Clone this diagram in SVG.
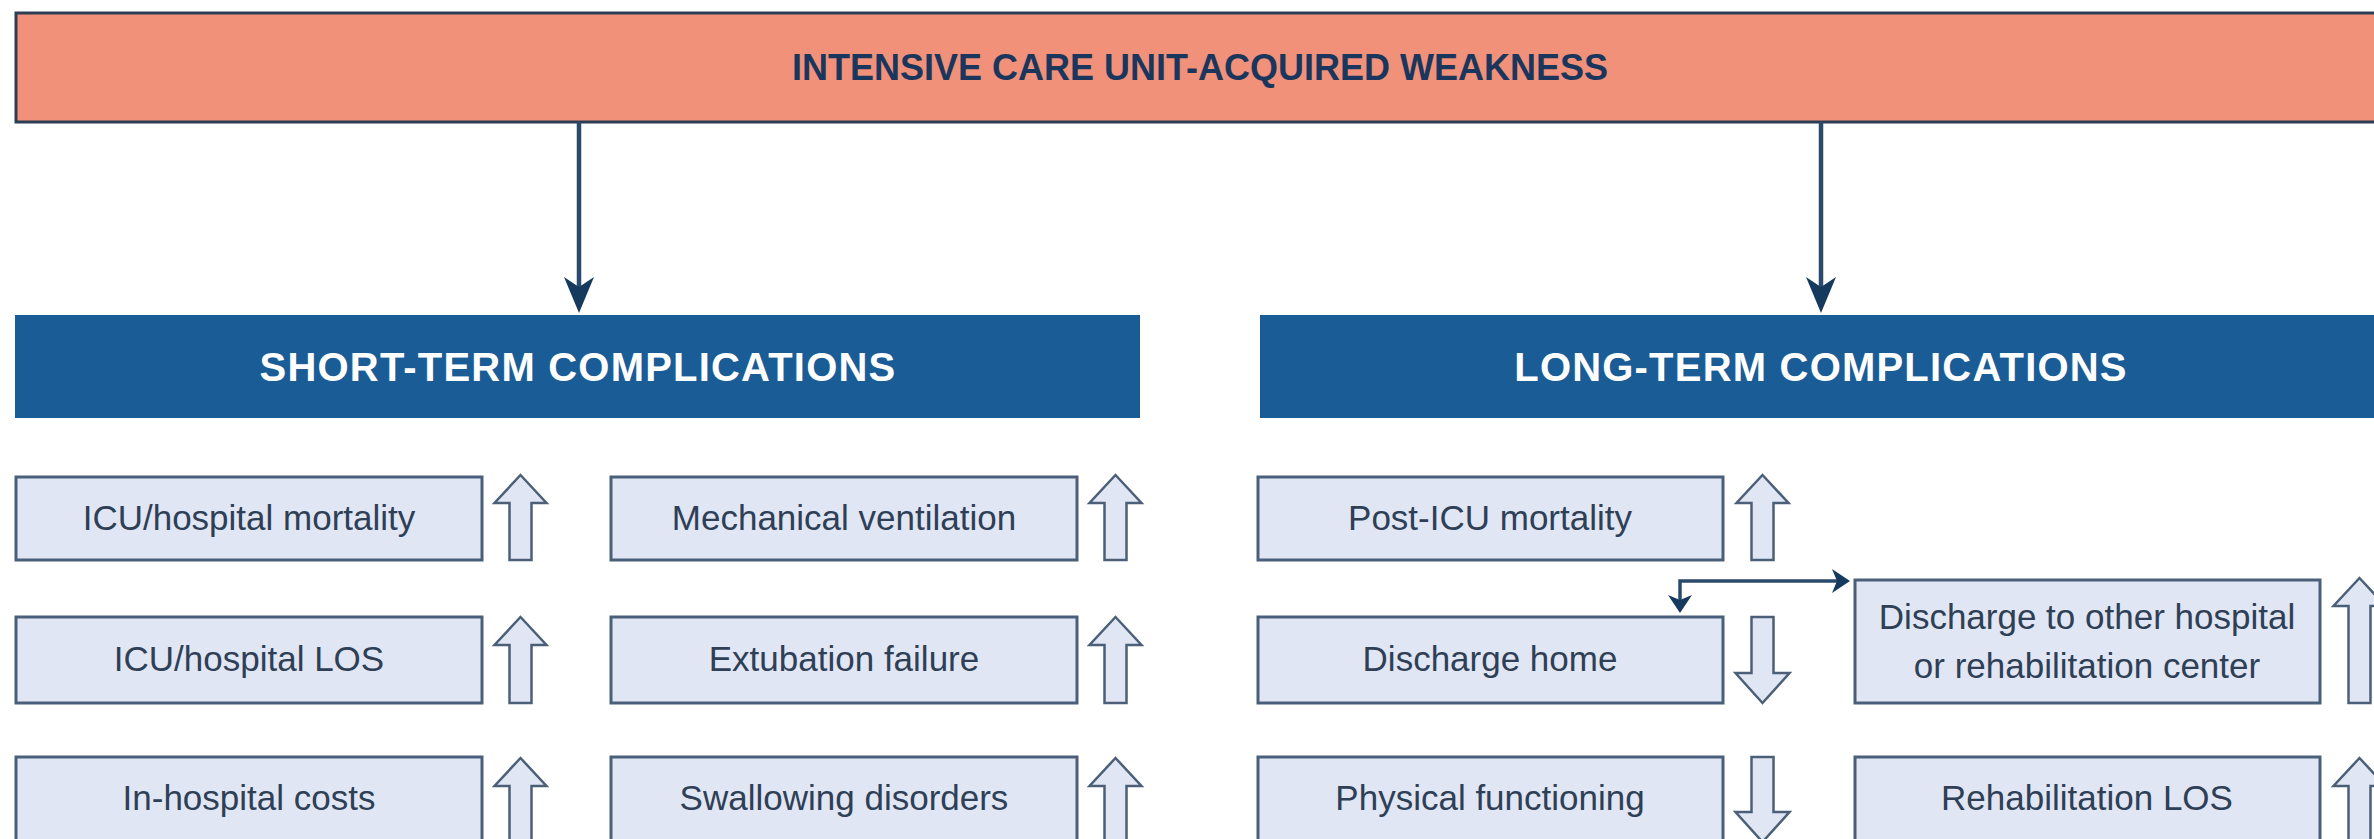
<svg xmlns="http://www.w3.org/2000/svg" width="2374" height="839" viewBox="0 0 2374 839">
<defs>
<style>
.title{font-family:"Liberation Sans",Arial,sans-serif;font-weight:bold;font-size:36px;fill:#1b365d;text-anchor:middle}
.hdr{font-family:"Liberation Sans",Arial,sans-serif;font-weight:bold;font-size:40px;fill:#ffffff;text-anchor:middle;letter-spacing:1.2px}
.lbl{font-family:"Liberation Sans",Arial,sans-serif;font-size:35px;fill:#2e3f56;text-anchor:middle}
.box{fill:#e1e6f4;stroke:#4a5f7a;stroke-width:3}
.ind{fill:#e1e6f4;stroke:#4b6078;stroke-width:2.5;stroke-linejoin:miter}
.hbar{fill:#1a5c96}
.conn{fill:none;stroke:#2a4a6b;stroke-width:4.5}
.conn2{fill:none;stroke:#2a4a6b;stroke-width:3.5}
</style>
<marker id="bigArrow" markerUnits="userSpaceOnUse" viewBox="0 0 36 30" markerWidth="36" markerHeight="30" refX="23" refY="15" orient="auto">
<path d="M0,0 L36,15 L0,30 L10,15 Z" fill="#163a5e"/>
</marker>
<marker id="smallArrow" markerUnits="userSpaceOnUse" viewBox="0 0 18 24" markerWidth="18" markerHeight="24" refX="10" refY="12" orient="auto-start-reverse">
<path d="M0,0 L18,12 L0,24 L5,12 Z" fill="#163a5e"/>
</marker>
</defs>
<rect width="2374" height="839" fill="#ffffff"/>

<g id="node-icuaw">
<rect x="16" y="13" width="2380" height="109" fill="#f2917a" stroke="#2c3e55" stroke-width="3"/>
<text class="title" x="1200" y="80">INTENSIVE CARE UNIT-ACQUIRED WEAKNESS</text>
</g>

<g id="node-short-term">
<rect class="hbar" x="15" y="315" width="1125" height="103"/>
<text class="hdr" x="578" y="381">SHORT-TERM COMPLICATIONS</text>
</g>

<g id="node-long-term">
<rect class="hbar" x="1260" y="315" width="1130" height="103"/>
<text class="hdr" x="1821" y="381">LONG-TERM COMPLICATIONS</text>
</g>

<g id="node-icu-mortality">
<rect class="box" x="16" y="477" width="466" height="83"/>
<text class="lbl" x="249" y="530">ICU/hospital mortality</text>
<path class="ind" d="M520.5,475 L546.5,503 L531.5,503 L531.5,560 L509.5,560 L509.5,503 L494.5,503 Z"/>
</g>

<g id="node-icu-los">
<rect class="box" x="16" y="617" width="466" height="86"/>
<text class="lbl" x="249" y="671">ICU/hospital LOS</text>
<path class="ind" d="M520.5,617 L546.5,645 L531.5,645 L531.5,703 L509.5,703 L509.5,645 L494.5,645 Z"/>
</g>

<g id="node-costs">
<rect class="box" x="16" y="757" width="466" height="86"/>
<text class="lbl" x="249" y="810">In-hospital costs</text>
<path class="ind" d="M520.5,758 L546.5,786 L531.5,786 L531.5,845 L509.5,845 L509.5,786 L494.5,786 Z"/>
</g>

<g id="node-mech-vent">
<rect class="box" x="611" y="477" width="466" height="83"/>
<text class="lbl" x="844" y="530">Mechanical ventilation</text>
<path class="ind" d="M1115.5,475 L1141.5,503 L1126.5,503 L1126.5,560 L1104.5,560 L1104.5,503 L1089.5,503 Z"/>
</g>

<g id="node-extubation">
<rect class="box" x="611" y="617" width="466" height="86"/>
<text class="lbl" x="844" y="671">Extubation failure</text>
<path class="ind" d="M1115.5,617 L1141.5,645 L1126.5,645 L1126.5,703 L1104.5,703 L1104.5,645 L1089.5,645 Z"/>
</g>

<g id="node-swallowing">
<rect class="box" x="611" y="757" width="466" height="86"/>
<text class="lbl" x="844" y="810">Swallowing disorders</text>
<path class="ind" d="M1115.5,758 L1141.5,786 L1126.5,786 L1126.5,845 L1104.5,845 L1104.5,786 L1089.5,786 Z"/>
</g>

<g id="node-post-icu-mortality">
<rect class="box" x="1258" y="477" width="465" height="83"/>
<text class="lbl" x="1490" y="530">Post-ICU mortality</text>
<path class="ind" d="M1762.5,475 L1788.5,503 L1773.5,503 L1773.5,560 L1751.5,560 L1751.5,503 L1736.5,503 Z"/>
</g>

<g id="node-discharge-home">
<rect class="box" x="1258" y="617" width="465" height="86"/>
<text class="lbl" x="1490" y="671">Discharge home</text>
<path class="ind" d="M1751.5,617 L1773.5,617 L1773.5,673 L1789.5,673 L1762.5,703 L1735.5,673 L1751.5,673 Z"/>
</g>

<g id="node-physical">
<rect class="box" x="1258" y="757" width="465" height="86"/>
<text class="lbl" x="1490" y="810">Physical functioning</text>
<path class="ind" d="M1751.5,757 L1773.5,757 L1773.5,812 L1789.5,812 L1762.5,842 L1735.5,812 L1751.5,812 Z"/>
</g>

<g id="node-discharge-other">
<rect class="box" x="1855" y="580" width="465" height="123"/>
<text class="lbl" x="2087" y="629">Discharge to other hospital</text>
<text class="lbl" x="2087" y="678">or rehabilitation center</text>
<path class="ind" d="M2359.5,578 L2385.5,606 L2370.5,606 L2370.5,703 L2348.5,703 L2348.5,606 L2333.5,606 Z"/>
</g>

<g id="node-rehab-los">
<rect class="box" x="1855" y="757" width="465" height="86"/>
<text class="lbl" x="2087" y="810">Rehabilitation LOS</text>
<path class="ind" d="M2359.5,758 L2385.5,786 L2370.5,786 L2370.5,845 L2348.5,845 L2348.5,786 L2333.5,786 Z"/>
</g>

<g id="connectors">
<line class="conn" x1="579" y1="122" x2="579" y2="300" marker-end="url(#bigArrow)"/>
<line class="conn" x1="1821" y1="122" x2="1821" y2="300" marker-end="url(#bigArrow)"/>
<path class="conn2" d="M1680,605 L1680,581 L1842,581" marker-start="url(#smallArrow)" marker-end="url(#smallArrow)"/>
</g>
</svg>
